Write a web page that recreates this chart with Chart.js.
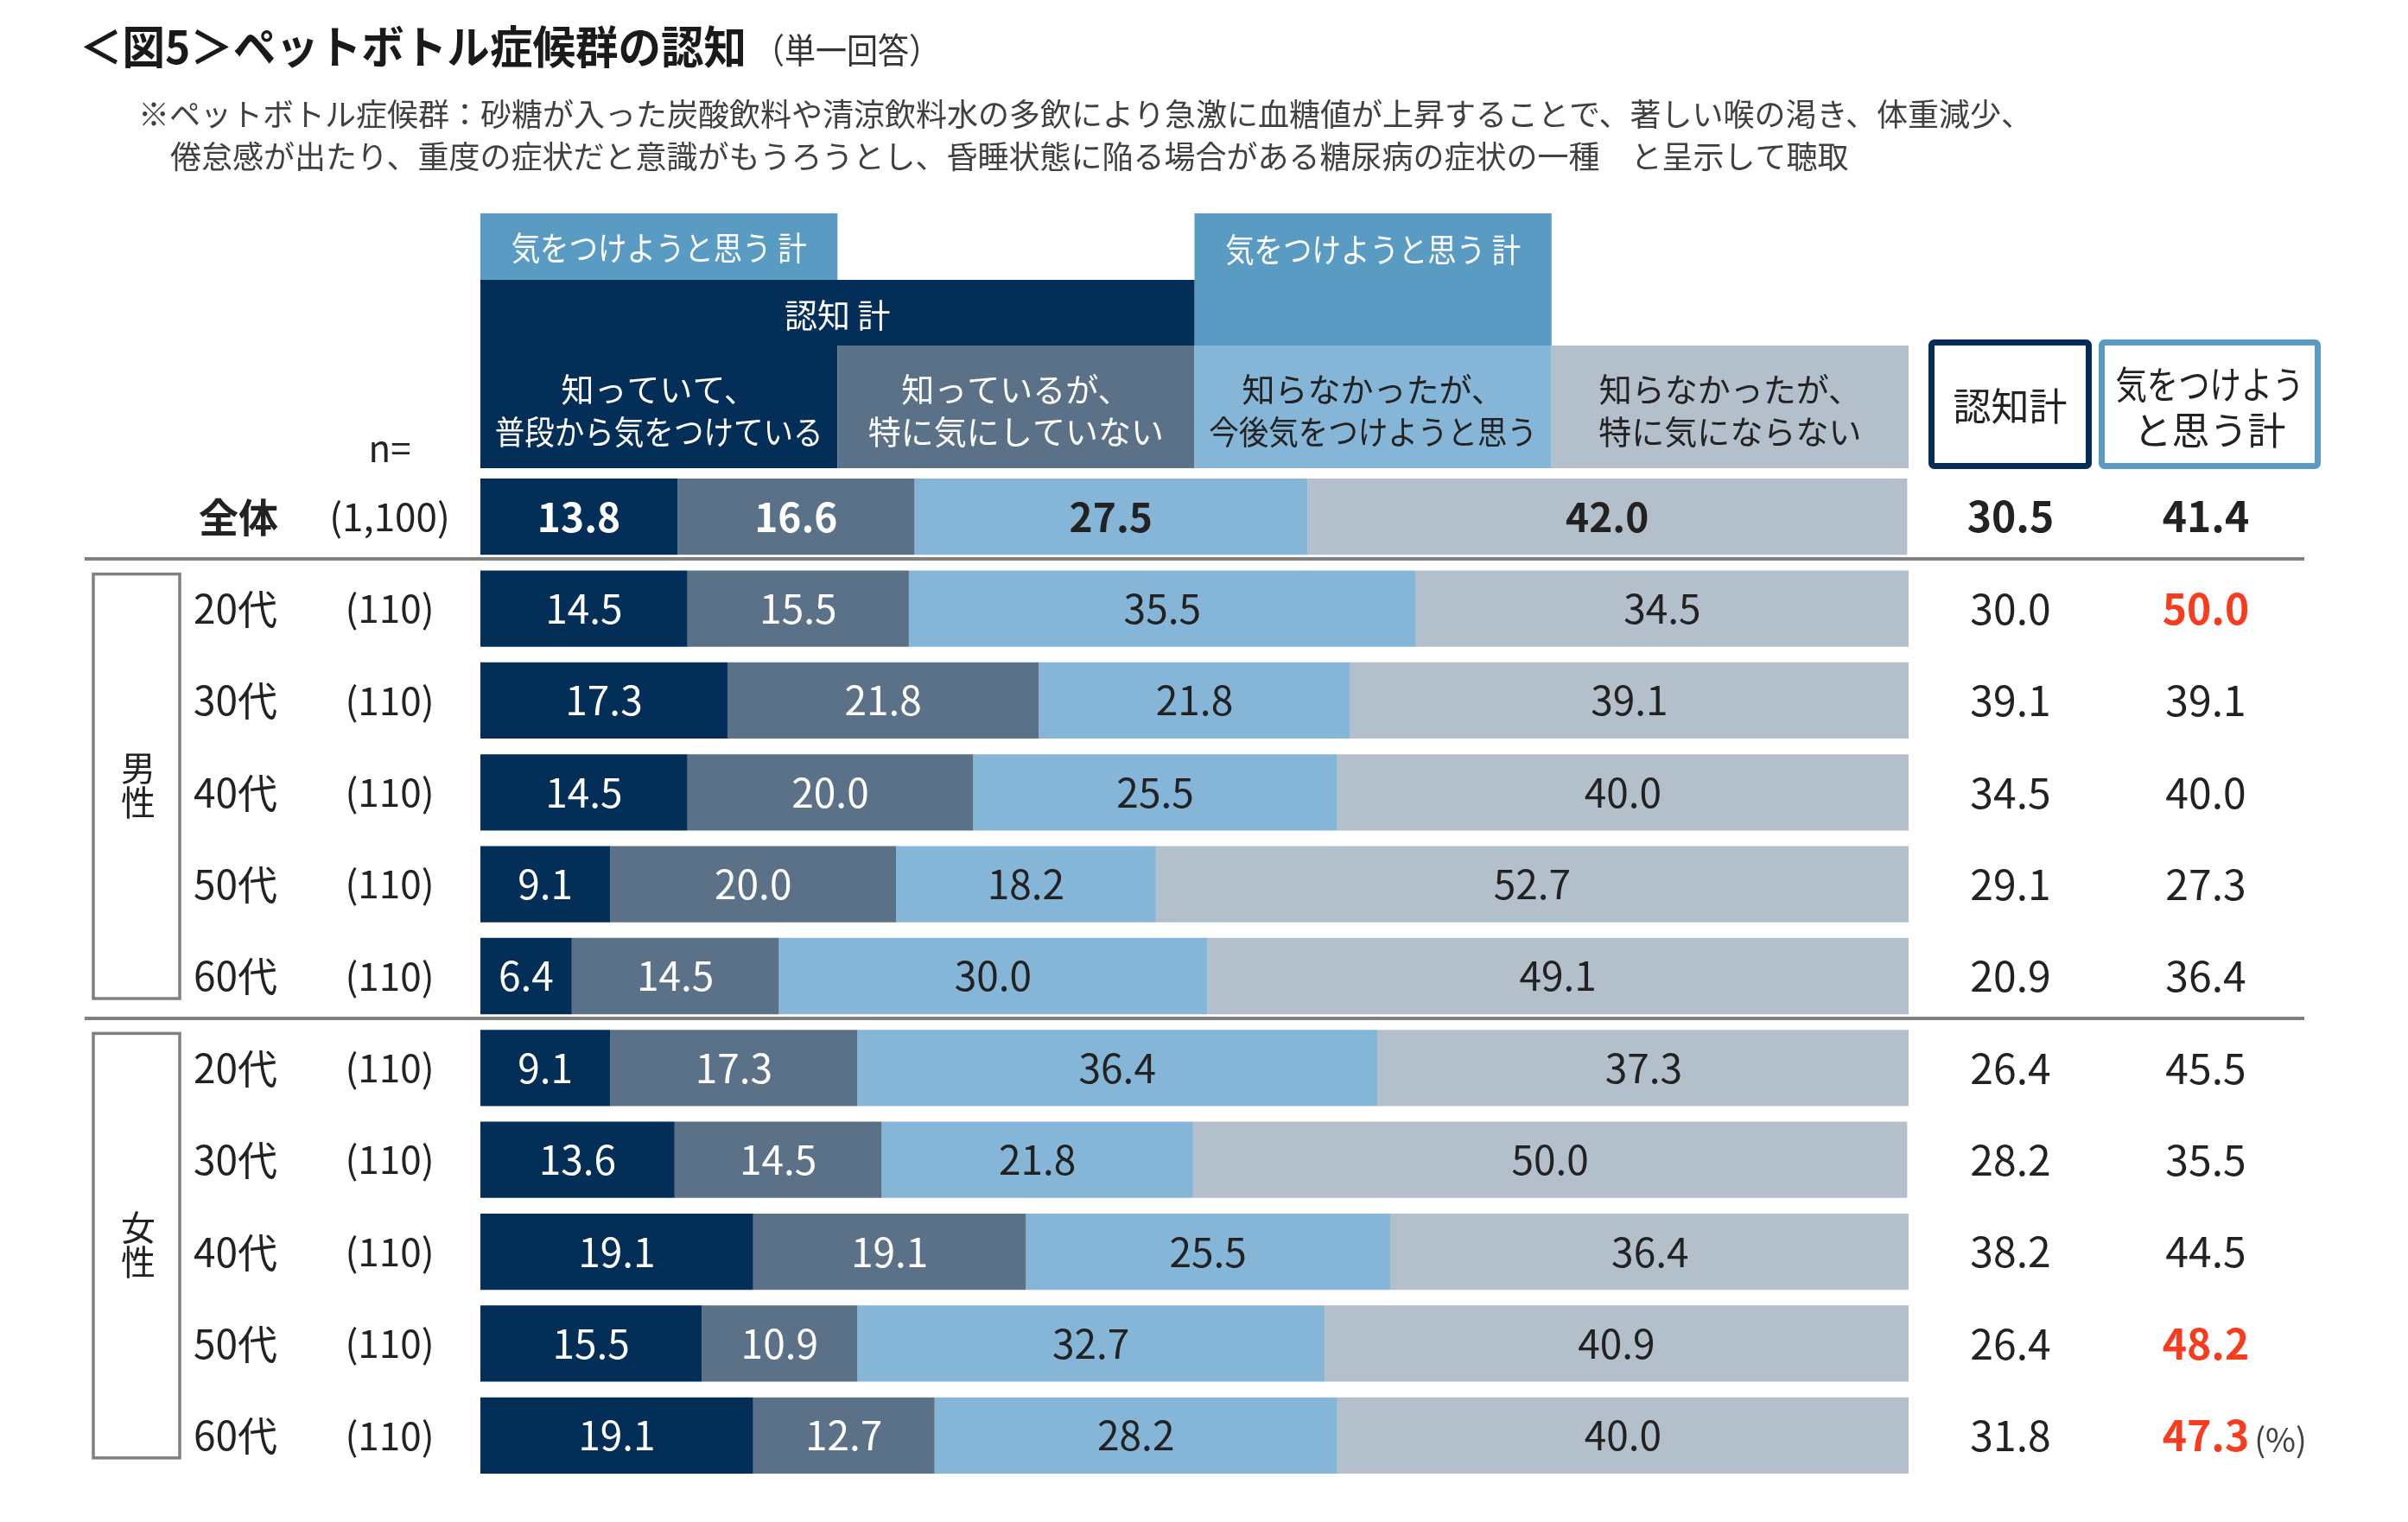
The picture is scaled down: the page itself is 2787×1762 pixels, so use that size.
<!DOCTYPE html>
<html lang="ja">
<head>
<meta charset="utf-8">
<title>図5 ペットボトル症候群の認知</title>
<script src="https://cdn.jsdelivr.net/npm/chart.js@4.4.1/dist/chart.umd.min.js"></script>
<style>
    html, body { margin: 0; padding: 0; background: #fff; }
    #wrap { position: relative; width: 2787px; height: 1762px; }
</style>
</head>
<body>
<div id="wrap"><canvas id="chart"></canvas></div>
<script>
// ────────────────────────────────────────
// Données (%)
// ────────────────────────────────────────
const categories = ['全体', '20代', '30代', '40代', '50代', '60代', '20代', '30代', '40代', '50代', '60代'];
const sampleSizes = ['(1,100)', '(110)', '(110)', '(110)', '(110)', '(110)', '(110)', '(110)', '(110)', '(110)', '(110)'];
const genderGroups = [
    { label: '男性', first: 1, last: 5 },
    { label: '女性', first: 6, last: 10 },
];

const seriesLabels = [
    ['知っていて、', '普段から気をつけている'],
    ['知っているが、', '特に気にしていない'],
    ['知らなかったが、', '今後気をつけようと思う'],
    ['知らなかったが、', '特に気にならない'],
];
const knowAndCare = [13.8, 14.5, 17.3, 14.5, 9.1, 6.4, 9.1, 13.6, 19.1, 15.5, 19.1];
const knowNoCare = [16.6, 15.5, 21.8, 20.0, 20.0, 14.5, 17.3, 14.5, 19.1, 10.9, 12.7];
const newWillCare = [27.5, 35.5, 21.8, 25.5, 18.2, 30.0, 36.4, 21.8, 25.5, 32.7, 28.2];
const newNoCare = [42.0, 34.5, 39.1, 40.0, 52.7, 49.1, 37.3, 50.0, 36.4, 40.9, 40.0];

const awarenessTotal = [30.5, 30.0, 39.1, 34.5, 29.1, 20.9, 26.4, 28.2, 38.2, 26.4, 31.8];
const intentTotal = [41.4, 50.0, 39.1, 40.0, 27.3, 36.4, 45.5, 35.5, 44.5, 48.2, 47.3];

// Rouge quand "気をつけようと思う計" dépasse le total de 5 pts ou plus
const HIGHLIGHT_DIFF = 5;

const FONT = '"Noto Sans CJK JP", "Noto Sans", sans-serif';
const NAVY = '#032E57';
const SLATE = '#5B7188';
const LIGHT = '#85B5D7';
const GREY = '#B3BFCB';
const MID_BLUE = '#599BC3';
const RED = '#F93C1E';
const TEXT = '#222222';
const RULE = '#808080';
const SERIES_COLORS = [NAVY, SLATE, LIGHT, GREY];
const LABEL_COLORS = ['#ffffff', '#ffffff', TEXT, TEXT];

function put(ctx, str, x, y, opt = {}) {
    ctx.save();
    ctx.font = `${opt.weight || 'normal'} ${opt.size || 40}px ${FONT}`;
    ctx.fillStyle = opt.color || TEXT;
    ctx.textAlign = opt.align || 'center';
    ctx.textBaseline = 'middle';
    if (opt.maxW) ctx.fillText(str, x, y, opt.maxW);
    else ctx.fillText(str, x, y);
    ctx.restore();
}

// ────────────────────────────────────────
// Tableau autour des barres (titre, en-têtes, colonnes)
// ────────────────────────────────────────
const tablePlugin = {
    id: 'table',
    afterDraw(chart) {
        const ctx = chart.ctx;
        const xs = chart.scales.x;
        const ys = chart.scales.y;
        const col = v => xs.getPixelForValue(v);
        const row = i => ys.getPixelForValue(i);

        // titre + note
        put(ctx, '＜図5＞ペットボトル症候群の認知', 92, 54, { size: 52, weight: 'bold', align: 'left', color: '#1a1a1a', maxW: 772 });
        put(ctx, '（単一回答）', 872, 58, { size: 40, align: 'left', color: '#333', maxW: 216 });
        put(ctx, '※ペットボトル症候群：砂糖が入った炭酸飲料や清涼飲料水の多飲により急激に血糖値が上昇することで、著しい喉の渇き、体重減少、',
            160, 132, { size: 36, align: 'left', color: '#404040', maxW: 2216 });
        put(ctx, '倦怠感が出たり、重度の症状だと意識がもうろうとし、昏睡状態に陥る場合がある糖尿病の症状の一種　と呈示して聴取',
            197, 181, { size: 36, align: 'left', color: '#404040', maxW: 1944 });

        // en-têtes groupés
        const x0 = col(0), x25 = col(25), x50 = col(50), x75 = col(75), x100 = col(100);
        ctx.fillStyle = MID_BLUE;
        ctx.fillRect(x0, 247, x25 - x0, 77);
        ctx.fillRect(x50, 247, x75 - x50, 153);
        ctx.fillStyle = NAVY;
        ctx.fillRect(x0, 324, x50 - x0, 76);
        put(ctx, '気をつけようと思う 計', (x0 + x25) / 2, 287, { size: 38, color: '#fff', maxW: 342 });
        put(ctx, '気をつけようと思う 計', (x50 + x75) / 2, 289, { size: 38, color: '#fff', maxW: 342 });
        put(ctx, '認知 計', (x0 + x50) / 2, 365, { size: 38, color: '#fff' });

        const edges = [x0, x25, x50, x75, x100];
        seriesLabels.forEach((lines, i) => {
            ctx.fillStyle = SERIES_COLORS[i];
            ctx.fillRect(edges[i], 400, edges[i + 1] - edges[i], 142);
            const cx = (edges[i] + edges[i + 1]) / 2;
            put(ctx, lines[0], cx, 451, { size: 38, color: LABEL_COLORS[i], maxW: 380 });
            put(ctx, lines[1], cx, 500, { size: 38, color: LABEL_COLORS[i], maxW: 380 });
        });

        // colonnes de droite
        const boxes = [
            { x: 2232, w: 189, color: NAVY, lines: ['認知計'], ys: [470], maxW: 150 },
            { x: 2429, w: 257, color: MID_BLUE, lines: ['気をつけよう', 'と思う計'], ys: [445, 498], maxW: 218 },
        ];
        boxes.forEach(b => {
            ctx.save();
            ctx.strokeStyle = b.color;
            ctx.lineWidth = 7;
            ctx.beginPath();
            ctx.roundRect(b.x + 3.5, 396.5, b.w - 7, 143, 3);
            ctx.stroke();
            ctx.restore();
            b.lines.forEach((t, k) => put(ctx, t, b.x + b.w / 2, b.ys[k], { size: 44, maxW: b.maxW }));
        });

        // libellés à gauche
        put(ctx, 'n=', 451, 519, { size: 42 });
        categories.forEach((c, i) => {
            const y = row(i);
            if (i === 0) {
                put(ctx, c, 276, y, { size: 46, weight: 'bold' });
            } else {
                put(ctx, c, 224, y, { size: 46, align: 'left' });
            }
            put(ctx, sampleSizes[i], 451, y, { size: 44 });

            const bold = i === 0;
            const hot = intentTotal[i] - intentTotal[0] >= HIGHLIGHT_DIFF;
            put(ctx, awarenessTotal[i].toFixed(1), 2327, y, { size: 48, weight: bold ? 'bold' : 'normal' });
            put(ctx, intentTotal[i].toFixed(1), 2553, y, {
                size: 48,
                weight: bold || hot ? 'bold' : 'normal',
                color: hot ? RED : TEXT,
            });
        });
        const last = categories.length - 1;
        ctx.save();
        ctx.font = `bold 48px ${FONT}`;
        const wLast = ctx.measureText(intentTotal[last].toFixed(1)).width;
        ctx.restore();
        put(ctx, '(%)', 2553 + wLast / 2 + 6, row(last) + 5, { size: 38, align: 'left', color: '#404040' });

        // séparateurs
        ctx.save();
        ctx.strokeStyle = RULE;
        ctx.lineWidth = 4;
        [0, genderGroups[0].last].forEach(i => {
            const y = Math.round((row(i) + row(i + 1)) / 2) - 4;
            ctx.beginPath();
            ctx.moveTo(98, y);
            ctx.lineTo(2667, y);
            ctx.stroke();
        });
        ctx.restore();

        // cadres 男性 / 女性
        genderGroups.forEach(g => {
            const top = row(g.first) - 40;
            const bottom = row(g.last) + 26;
            ctx.save();
            ctx.strokeStyle = RULE;
            ctx.lineWidth = 3.5;
            ctx.strokeRect(108, top, 100, bottom - top);
            ctx.restore();
            const mid = (top + bottom) / 2;
            put(ctx, g.label[0], 160, mid - 21, { size: 40 });
            put(ctx, g.label[1], 160, mid + 19, { size: 40 });
        });
    },
};

// valeurs dans les segments
const segmentLabels = {
    id: 'segmentLabels',
    afterDatasetsDraw(chart) {
        const ctx = chart.ctx;
        chart.data.datasets.forEach((ds, i) => {
            const meta = chart.getDatasetMeta(i);
            meta.data.forEach((bar, j) => {
                const cx = (bar.x + bar.base) / 2;
                put(ctx, ds.data[j].toFixed(1), cx, bar.y, {
                    size: 46,
                    weight: j === 0 ? 'bold' : 'normal',
                    color: LABEL_COLORS[i],
                });
            });
        });
    },
};

const seriesValues = [knowAndCare, knowNoCare, newWillCare, newNoCare];

new Chart(document.getElementById('chart'), {
    type: 'bar',
    data: {
        labels: categories,
        datasets: seriesLabels.map((lines, i) => ({
            label: lines.join(''),
            data: seriesValues[i],
            backgroundColor: SERIES_COLORS[i],
            borderWidth: 0,
            barPercentage: 0.83,
            categoryPercentage: 1,
        })),
    },
    options: {
        indexAxis: 'y',
        responsive: true,
        maintainAspectRatio: false,
        animation: false,
        devicePixelRatio: 1,
        layout: { padding: { left: 556, right: 578, top: 545, bottom: 47 } },
        scales: {
            x: { stacked: true, min: 0, max: 100, display: false },
            y: { stacked: true, display: false },
        },
        plugins: {
            legend: { display: false },
            tooltip: { enabled: false },
        },
    },
    plugins: [segmentLabels, tablePlugin],
});
</script>
</body>
</html>
